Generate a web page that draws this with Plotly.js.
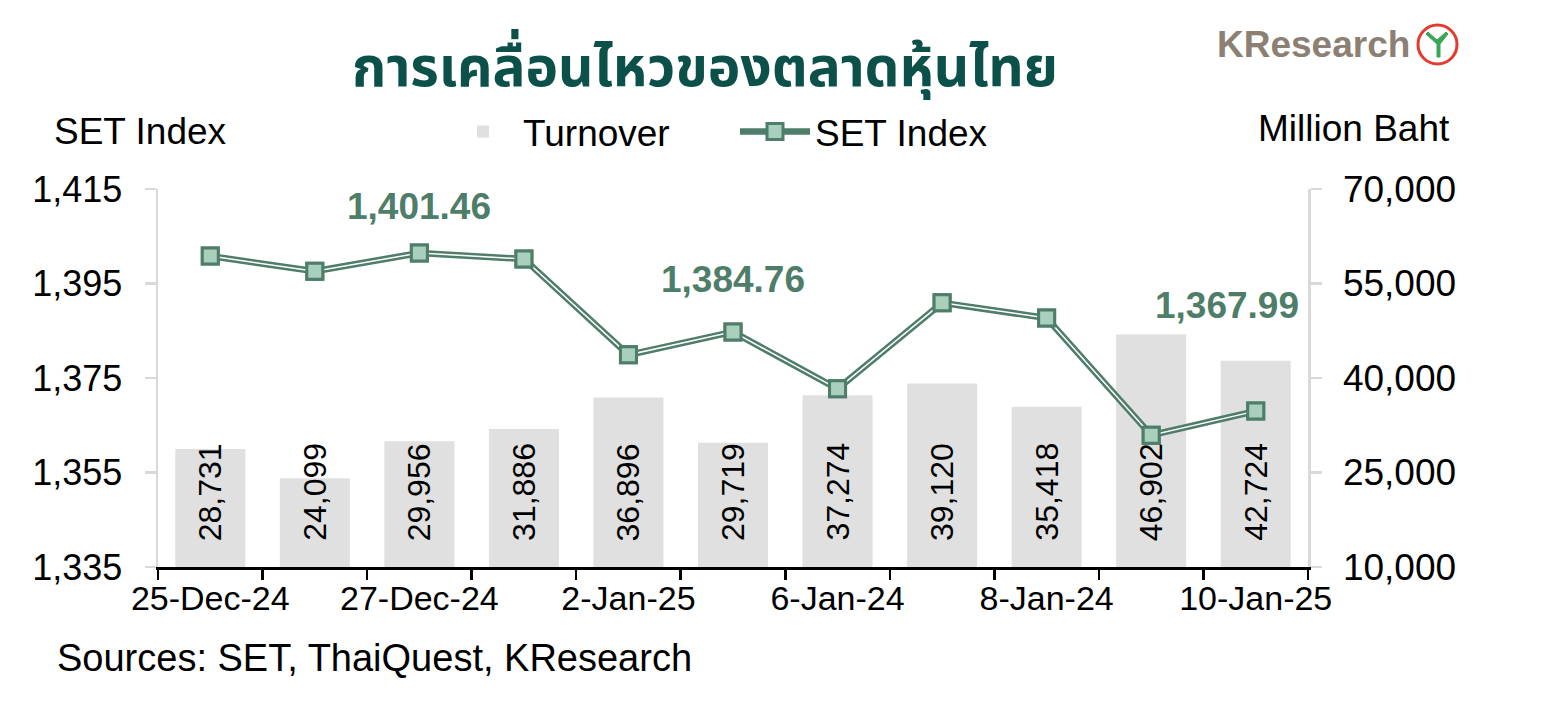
<!DOCTYPE html>
<html>
<head>
<meta charset="utf-8">
<script src="https://cdn.plot.ly/plotly-3.0.1.min.js"></script>
<style>html,body{margin:0;padding:0;background:#fff;}#chart{width:1547px;height:708px;}</style>
</head>
<body>
<div id="chart"></div>
<script>
const categories = ["25-Dec-24","26-Dec-24","27-Dec-24","30-Dec-24","2-Jan-25","3-Jan-25","6-Jan-24","7-Jan-24","8-Jan-24","9-Jan-25","10-Jan-25"];
const tickLabels = ["25-Dec-24","","27-Dec-24","","2-Jan-25","","6-Jan-24","","8-Jan-24","","10-Jan-25"];
const turnover = [28731,24099,29956,31886,36896,29719,37274,39120,35418,46902,42724];
const setIndex = [1400.8,1397.6,1401.46,1400.2,1379.9,1384.76,1372.7,1390.9,1387.7,1362.9,1367.99];
const highlightIdx = [2,5,10];

const FONT = "Liberation Sans, Arial, sans-serif";
const GREEN = "#4e7d69";
const LIGHTGREEN = "#a9cfbd";

// plot area in pixels
const PL = 158, PR = 1308, PT = 189, PB = 567;
const px = x => (x - PL) / (PR - PL);
const py = y => (PB - y) / (PB - PT);

const traces = [
  {type:"bar", x:categories, y:turnover, yaxis:"y", name:"Turnover",
   marker:{color:"#e0e0e0"}, width:0.67, hoverinfo:"skip"},
  {type:"scatter", mode:"lines+markers", x:categories, y:setIndex, yaxis:"y2", name:"SET Index",
   line:{color:GREEN, width:6.5}, marker:{symbol:"square", size:16, color:LIGHTGREEN, line:{color:GREEN, width:3}}},
  {type:"scatter", mode:"lines", x:categories, y:setIndex, yaxis:"y2", showlegend:false,
   line:{color:"#ffffff", width:1.5}, hoverinfo:"skip"},
  {type:"scatter", mode:"markers", x:categories, y:setIndex, yaxis:"y2", showlegend:false,
   marker:{symbol:"square", size:16, color:LIGHTGREEN, line:{color:GREEN, width:3}}, hoverinfo:"skip"}
];

const annotations = [];
categories.forEach((c,i)=>{
  annotations.push({x:c, y:10000, xref:"x", yref:"y", text:turnover[i].toLocaleString("en-US"),
    textangle:-90, showarrow:false, xanchor:"center", yanchor:"bottom", yshift:24,
    font:{family:FONT, size:32, color:"#000"}});
});
const hlShift = {2:[0,46], 5:[0,52], 10:[-29,106]};
highlightIdx.forEach(i=>{
  annotations.push({x:categories[i], y:setIndex[i], xref:"x", yref:"y2", text:"<b>"+setIndex[i].toLocaleString("en-US",{minimumFractionDigits:2})+"</b>",
    showarrow:false, xanchor:"center", yanchor:"middle", xshift:hlShift[i][0], yshift:hlShift[i][1],
    font:{family:FONT, size:37, color:GREEN}});
});
annotations.push({x:px(140), y:py(131), xref:"paper", yref:"paper", text:"SET Index", showarrow:false,
  xanchor:"center", yanchor:"middle", font:{family:FONT, size:37, color:"#000"}});
annotations.push({x:px(1354), y:py(129), xref:"paper", yref:"paper", text:"Million Baht", showarrow:false,
  xanchor:"center", yanchor:"middle", font:{family:FONT, size:37, color:"#000"}});
annotations.push({x:px(55), y:py(658), xref:"paper", yref:"paper", text:"Sources: SET, ThaiQuest, KResearch", showarrow:false,
  xanchor:"left", yanchor:"middle", font:{family:FONT, size:38, color:"#000"}});
annotations.push({x:px(1412), y:py(44), xref:"paper", yref:"paper", text:"<b>KResearch</b>", showarrow:false,
  xanchor:"right", yanchor:"middle", font:{family:FONT, size:37, color:"#8c8073"}});

const leafPath = [[1437,57],[1437,44],[1426,34],[1428,32],[1437,40],[1446,32],[1448,34],[1440,44],[1440,57]]
  .map((p,k)=>(k===0?"M ":"L ")+px(p[0])+","+py(p[1])).join(" ")+" Z";

const layout = {
  width:1547, height:708,
  margin:{l:PL, r:1547-PR, t:PT, b:708-PB},
  paper_bgcolor:"#fff", plot_bgcolor:"#fff",
  font:{family:FONT, size:35, color:"#000"},
  title:{text:"<b>การเคลื่อนไหวของตลาดหุ้นไทย</b>", x:705/1547, xanchor:"center", y:1-67/708, yanchor:"middle",
    font:{family:"Noto Sans Thai, Loma, Garuda, Tahoma, Noto Sans, sans-serif", size:55, color:"#0b5149"}},
  showlegend:true,
  legend:{orientation:"h", x:px(443), xanchor:"left", y:py(132), yanchor:"middle", font:{family:FONT, size:37},
    traceorder:"normal", bgcolor:"rgba(0,0,0,0)", itemwidth:70, entrywidth:207, entrywidthmode:"pixels"},
  xaxis:{type:"category", categoryorder:"array", categoryarray:categories, tickvals:categories, ticktext:tickLabels,
    tickson:"boundaries", ticks:"outside", ticklen:10, tickwidth:2.5, tickcolor:"#000", tickangle:0,
    showline:true, linecolor:"#000", linewidth:2.5, showgrid:false, zeroline:false,
    tickfont:{family:FONT, size:34}, range:[-0.5,10.5]},
  yaxis:{range:[10000,70000], dtick:15000, tick0:10000, tickformat:",", side:"right",
    showgrid:false, zeroline:false, showline:true, linecolor:"#d9d9d9", linewidth:2.5, ticks:"outside", ticklen:11,
    tickwidth:2.5, tickcolor:"#d9d9d9", tickfont:{family:FONT, size:37}, ticklabelstandoff:14},
  yaxis2:{range:[1335,1415], dtick:20, tick0:1335, tickformat:",", overlaying:"y", side:"left", showgrid:false, zeroline:false,
    showline:true, linecolor:"#d9d9d9", linewidth:2.5, ticks:"outside", ticklen:11, tickwidth:2.5, tickcolor:"#d9d9d9",
    tickfont:{family:FONT, size:36}, ticklabelstandoff:15},
  annotations:annotations,
  shapes:[
    {type:"circle", xref:"paper", yref:"paper", x0:px(1418), x1:px(1457), y0:py(64), y1:py(25),
     line:{color:"#e53a2e", width:3}, fillcolor:"#fff"},
    {type:"path", xref:"paper", yref:"paper", path:leafPath, line:{color:"#3aa655", width:1}, fillcolor:"#3aa655"}
  ]
};

Plotly.newPlot("chart", traces, layout, {displayModeBar:false, staticPlot:true});
</script>
</body>
</html>
